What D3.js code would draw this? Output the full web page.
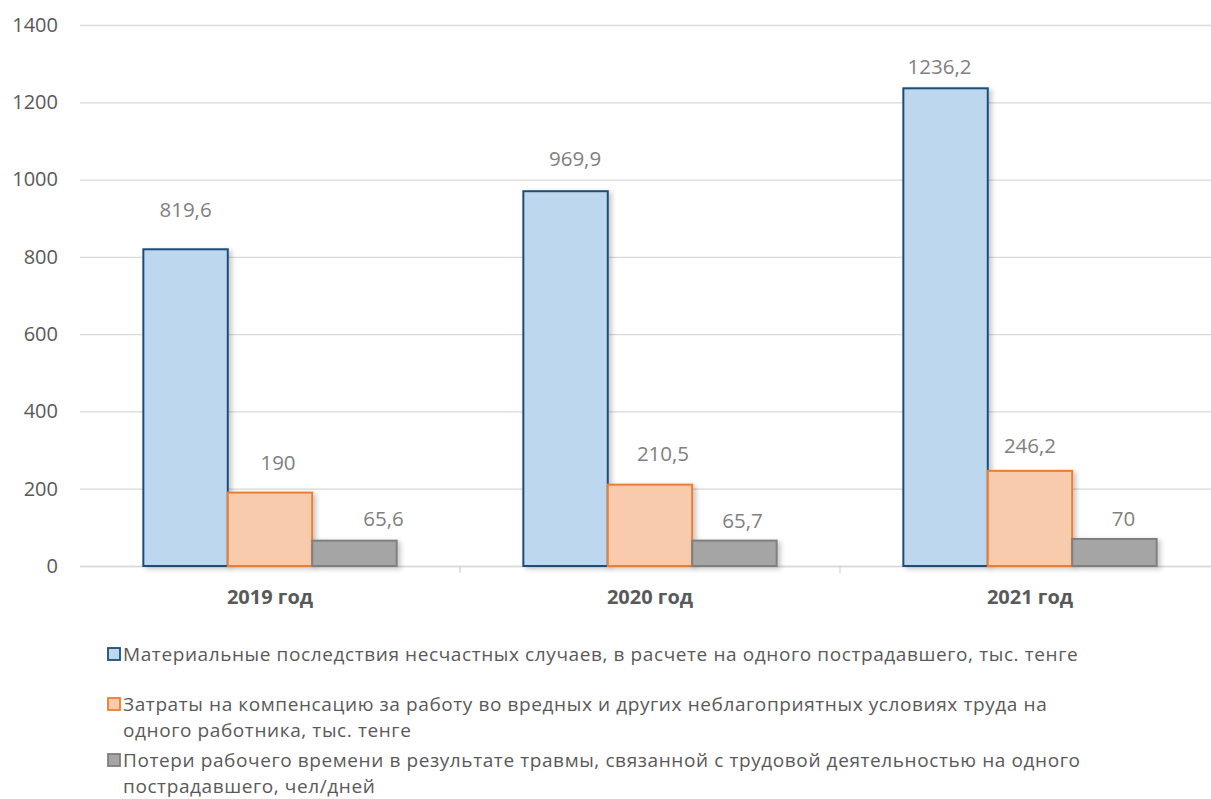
<!DOCTYPE html>
<html>
<head>
<meta charset="utf-8">
<script src="https://cdn.jsdelivr.net/npm/d3@7"></script>
<style>
  html, body { margin: 0; padding: 0; background: #ffffff; }
  svg { display: block; font-family: "Open Sans", "Noto Sans", sans-serif; }
</style>
</head>
<body>
<svg id="chart" width="1211" height="799"></svg>
<script>
// Years on the category axis
const categories = ["2019 год", "2020 год", "2021 год"];

// One array per series, in category order
const materialLosses = [819.6, 969.9, 1236.2];
const compensationCosts = [190, 210.5, 246.2];
const lostWorkDays = [65.6, 65.7, 70];

// Value-axis ticks
const yTicks = [0, 200, 400, 600, 800, 1000, 1200, 1400];

// Legend captions, already split into the lines they wrap onto
const legendLines = [
  ["Материальные последствия несчастных случаев, в расчете на одного пострадавшего, тыс. тенге"],
  ["Затраты на компенсацию за работу во вредных и других неблагоприятных условиях труда на",
   "одного работника, тыс. тенге"],
  ["Потери рабочего времени в результате травмы, связанной с трудовой деятельностью на одного",
   "пострадавшего, чел/дней"]
];

const seriesValues = [materialLosses, compensationCosts, lostWorkDays];
const seriesStyle = [
  { fill: "#bdd7ee", stroke: "#1f4e79" },
  { fill: "#f8cbad", stroke: "#ed7d31" },
  { fill: "#a5a5a5", stroke: "#7f7f7f" }
];

// Hand-placed data labels: horizontal shift from the bar centre and
// height of the label centre above the bar top (px), per series and year
const labelShift = [[0, 9.5, -6], [8, 13, 0], [29, 8, 9]];
const labelRise = [[40, 33, 22], [30, 31, 25], [21.5, 20, 20]];

const svg = d3.select("#chart");
const plot = { left: 80, right: 1220, top: 25, bottom: 566 };

const x = d3.scaleBand()
  .domain(categories)
  .range([plot.left, plot.right])
  .paddingInner(0)
  .paddingOuter(0);

// Three bars fill the middle of each band, with half a bar of space on each side
const xInner = d3.scaleBand()
  .domain(d3.range(seriesValues.length))
  .range([0, x.bandwidth()])
  .paddingOuter(0.75)
  .paddingInner(0);

const y = d3.scaleLinear().domain([0, 1400]).range([plot.bottom, plot.top]);

// Soft shadow behind the bars
const defs = svg.append("defs");
const shadow = defs.append("filter").attr("id", "barShadow")
  .attr("x", "-20%").attr("y", "-20%").attr("width", "150%").attr("height", "150%");
shadow.append("feDropShadow")
  .attr("dx", 3).attr("dy", 2).attr("stdDeviation", 2.5)
  .attr("flood-color", "#000").attr("flood-opacity", 0.22);

// Gridlines and value-axis labels
const yAxis = d3.axisLeft(y).tickValues(yTicks)
  .tickSize(-(plot.right - plot.left)).tickPadding(22).tickFormat(d3.format("d"));
const gy = svg.append("g").attr("transform", `translate(${plot.left},0)`).call(yAxis);
gy.select(".domain").remove();
gy.selectAll(".tick line").attr("stroke", "#d9d9d9").attr("stroke-width", 1.3);
gy.selectAll(".tick text")
  .attr("fill", "#595959").attr("font-size", 20)
  .attr("font-family", "'Open Sans', sans-serif");

// Category axis
const xAxis = d3.axisBottom(x).tickSize(0).tickPadding(0);
const gx = svg.append("g").attr("transform", `translate(0,${plot.bottom})`).call(xAxis);
gx.select(".domain").attr("stroke", "#d9d9d9").attr("stroke-width", 1.5);
gx.selectAll(".tick text")
  .attr("dy", 0).attr("y", 38)
  .attr("fill", "#595959").attr("font-size", 20).attr("font-weight", "bold")
  .attr("font-family", "'Open Sans', sans-serif");

// Tick marks between categories
svg.append("g").selectAll("line")
  .data(categories.slice(1))
  .join("line")
  .attr("x1", d => x(d)).attr("x2", d => x(d))
  .attr("y1", plot.bottom).attr("y2", plot.bottom + 7)
  .attr("stroke", "#d9d9d9").attr("stroke-width", 1.5);

// Bars
const groups = svg.append("g").selectAll("g")
  .data(seriesValues)
  .join("g");

groups.each(function(values, si) {
  d3.select(this).selectAll("rect")
    .data(values.map((v, ci) => ({ v, cat: categories[ci] })))
    .join("rect")
    .attr("x", d => x(d.cat) + xInner(si))
    .attr("y", d => y(d.v))
    .attr("width", xInner.bandwidth())
    .attr("height", d => y(0) - y(d.v))
    .attr("fill", seriesStyle[si].fill)
    .attr("stroke", seriesStyle[si].stroke)
    .attr("stroke-width", 2)
    .attr("filter", "url(#barShadow)");
});

// Value labels above bars
const fmt = v => String(v).replace(".", ",");
const labels = svg.append("g");
seriesValues.forEach((values, si) => {
  labels.append("g").selectAll("text")
    .data(values.map((v, ci) => ({ v, ci, cat: categories[ci] })))
    .join("text")
    .attr("x", d => x(d.cat) + xInner(si) + xInner.bandwidth() / 2 + labelShift[si][d.ci])
    .attr("y", d => y(d.v) - labelRise[si][d.ci] + 7.3)
    .attr("text-anchor", "middle")
    .attr("fill", "#7f7f7f")
    .attr("font-size", 20.5)
    .text(d => fmt(d.v));
});

// Legend: one text per entry, wrapped lines as tspans
const legendRows = [654, 704, 760];
const lineGap = 26;
const legend = svg.append("g");
legendLines.forEach((lines, i) => {
  const row = legend.append("g");
  row.append("rect")
    .attr("x", 108).attr("y", legendRows[i] - 6)
    .attr("width", 12).attr("height", 12)
    .attr("fill", seriesStyle[i].fill)
    .attr("stroke", seriesStyle[i].stroke)
    .attr("stroke-width", 1.8);
  const txt = row.append("text")
    .attr("x", 123)
    .attr("y", legendRows[i] + 6.5)
    .attr("fill", "#595959")
    .attr("font-size", 19)
    .attr("letter-spacing", 0.6);
  lines.forEach((t, j) => {
    txt.append("tspan")
      .attr("x", 123)
      .attr("dy", j === 0 ? 0 : lineGap)
      .text(t);
  });
});
</script>
</body>
</html>
